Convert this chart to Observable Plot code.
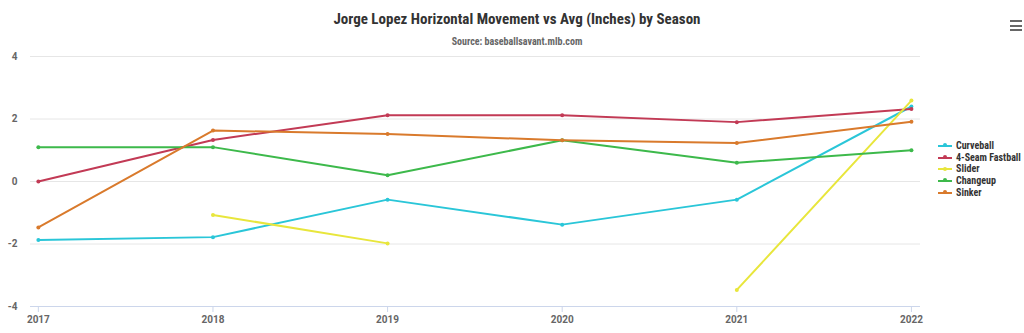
<!DOCTYPE html>
<html>
<head>
<meta charset="utf-8">
<script src="https://cdn.jsdelivr.net/npm/d3@7"></script>
<script src="https://cdn.jsdelivr.net/npm/@observablehq/plot@0.6"></script>
<style>
  html, body { margin: 0; padding: 0; background: #fff; }
  #wrap { position: relative; width: 1024px; height: 333px; overflow: hidden; font-family: "Roboto Condensed", "Liberation Sans Narrow", "DejaVu Sans Condensed", Roboto, sans-serif; }
  #title { position: absolute; left: 0; width: 1034px; top: 10px; text-align: center; font-size: 15px; font-weight: bold; color: #333; }
  #subtitle { position: absolute; left: 0; width: 1034px; top: 36px; text-align: center; font-size: 10px; font-weight: bold; color: #666; }
  #legend { position: absolute; left: 938px; top: 140px; font-size: 10px; font-weight: bold; color: #333; }
  .li { height: 11.7px; line-height: 11.7px; display: flex; align-items: center; white-space: nowrap; }
  .sw { position: relative; width: 14px; height: 2px; margin-right: 4px; }
  .sw i { position: absolute; left: 5px; top: -1.5px; width: 4px; height: 4px; border-radius: 2px; }
  #menu { position: absolute; left: 1010px; top: 20px; width: 12px; }
  #menu div { height: 2px; background: #666; margin-bottom: 2.5px; }
  svg { position: absolute; left: 0; top: 0; }
</style>
</head>
<body>
<div id="wrap">
  <div id="title">Jorge Lopez Horizontal Movement vs Avg (Inches) by Season</div>
  <div id="subtitle">Source: baseballsavant.mlb.com</div>
  <div id="menu"><div></div><div></div><div></div></div>
  <div id="legend"></div>
</div>
<script>
const seasons = [2017, 2018, 2019, 2020, 2021, 2022];
const seriesNames = ["Curveball", "4-Seam Fastball", "Slider", "Changeup", "Sinker"];
const seriesColors = ["#2ac6d8", "#c23a55", "#e8e63c", "#3db94b", "#d97a2c"];
const curveball = [-1.87, -1.78, -0.58, -1.38, -0.58, 2.4];
const fourSeam = [0, 1.33, 2.12, 2.12, 1.9, 2.32];
const slider = [null, -1.07, -1.98, null, -3.47, 2.59];
const changeup = [1.1, 1.1, 0.2, 1.32, 0.6, 1.0];
const sinker = [-1.47, 1.63, 1.52, 1.32, 1.23, 1.91];
const yTicks = [-4, -2, 0, 2, 4];

const seriesValues = [curveball, fourSeam, slider, changeup, sinker];
const series = seriesNames.map((name, i) => ({
  name, color: seriesColors[i],
  data: seasons.map((s, j) => ({season: s, value: seriesValues[i][j] == null ? NaN : seriesValues[i][j]}))
}));

const marks = [
  Plot.ruleY(yTicks.filter(d => d !== -4), {stroke: "#e6e6e6", strokeWidth: 1}),
  Plot.ruleY([-4], {stroke: "#ccd6eb", strokeWidth: 1}),
  Plot.axisY({ticks: yTicks, tickSize: 0, tickPadding: 13, tickFormat: d => String(d), fill: "#666", fontSize: 10, fontWeight: "bold"}),
  Plot.axisX({ticks: seasons, tickSize: 6, tickFormat: d => String(d), stroke: "#ccd6eb", fill: "#666", fontSize: 10, fontWeight: "bold", tickPadding: 3})
];
for (const s of series) {
  marks.push(Plot.line(s.data, {x: "season", y: "value", stroke: s.color, strokeWidth: 2}));
  marks.push(Plot.dot(s.data.filter(d => !isNaN(d.value)), {x: "season", y: "value", fill: s.color, r: 2}));
}

const chart = Plot.plot({
  width: 1024,
  height: 333,
  marginLeft: 30,
  marginRight: 104,
  marginTop: 56,
  marginBottom: 27,
  style: {background: "transparent", fontFamily: "Roboto, sans-serif"},
  x: {domain: [2016.955, 2022.052], label: null},
  y: {domain: [-4, 4], label: null},
  marks
});
document.getElementById("wrap").insertBefore(chart, document.getElementById("title"));

const legend = document.getElementById("legend");
for (const s of series) {
  const row = document.createElement("div");
  row.className = "li";
  row.innerHTML = `<div class="sw" style="background:${s.color}"><i style="background:${s.color}"></i></div><span>${s.name}</span>`;
  legend.appendChild(row);
}
</script>
</body>
</html>
